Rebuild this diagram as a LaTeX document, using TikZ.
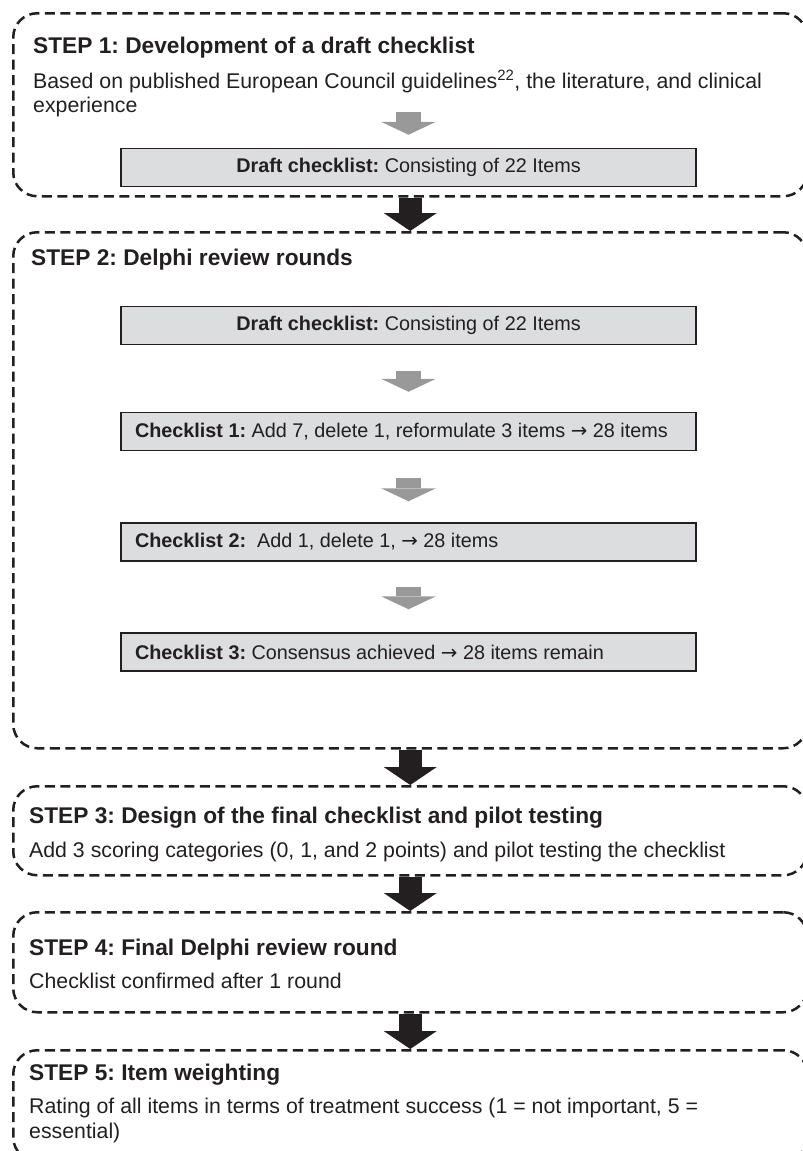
\documentclass[tikz,border=0pt]{standalone}
\usepackage{fontspec}
\setmainfont{Liberation Sans}
\newfontfamily\arrowfont{DejaVu Sans}
\usetikzlibrary{arrows.meta}
\definecolor{ink}{HTML}{231F20}
\definecolor{boxfill}{HTML}{DCDDDE}
\definecolor{arrgray}{HTML}{999999}
\newcommand{\rarr}{{\arrowfont →}}
\tikzset{
 stepbox/.style={draw=ink, line width=2.5pt, dash pattern=on 10pt off 5.5pt, rounded corners=24pt, anchor=north west, inner sep=0pt, minimum width=794pt},
 titletext/.style={font=\fontsize{22.7}{27}\selectfont\bfseries, text=ink, anchor=base west, inner sep=0pt},
 bodytext/.style={font=\fontsize{21.3}{25}\selectfont, text=ink, anchor=base west, inner sep=0pt},
 graybox/.style={draw=ink, line width=1.5pt, fill=boxfill, minimum height=38pt, minimum width=575pt, inner xsep=14pt, inner ysep=0pt, font=\fontsize{19.8}{23}\selectfont, text=ink},
 grayarrow/.style={arrgray, line width=25pt, -{Triangle[width=55pt,length=13pt,line width=0pt]}},
 blackarrow/.style={ink, line width=23pt, -{Triangle[width=53pt,length=18pt,line width=0pt]}},
}
\begin{document}
\frenchspacing
\begin{tikzpicture}[x=1pt,y=-1pt]
\useasboundingbox (0,0) rectangle (803,1151);
% step frames
\node[stepbox, minimum height=183pt] (s1) at (12,12) {};
\node[stepbox, minimum height=516pt] (s2) at (12,231) {};
\node[stepbox, minimum height=89pt] (s3) at (12,785) {};
\node[stepbox, minimum height=100pt] (s4) at (12,911) {};
\node[stepbox, minimum height=111pt] (s5) at (12,1049) {};
% step 1
\node[titletext] (t1) at (33,53) {STEP 1: Development of a draft checklist};
\node[bodytext] (b1a) at (33,88) {Based on published European Council guidelines\textsuperscript{22}, the literature, and clinical};
\node[bodytext] (b1b) at (33,112) {experience};
\node[graybox] (d1) at (408.5,167.5) {\makebox[547pt][c]{\textbf{Draft checklist:} Consisting of 22 Items}};
\coordinate (g1) at (408.5,112);
\draw[grayarrow] (g1) -- ([yshift=13pt]d1.north);
% step 2
\node[titletext] (t2) at (31,265) {STEP 2: Delphi review rounds};
\node[graybox] (d2) at (408.5,325.5) {\makebox[547pt][c]{\textbf{Draft checklist:} Consisting of 22 Items}};
\node[graybox] (c1) at (408.5,431.5) {\makebox[547pt][l]{\textbf{Checklist 1:} Add 7, delete 1, reformulate 3 items \rarr\ 28 items}};
\node[graybox] (c2) at (408.5,542) {\makebox[547pt][l]{\textbf{Checklist 2:}\ \ Add 1, delete 1, \rarr\ 28 items}};
\node[graybox] (c3) at (408.5,652) {\makebox[547pt][l]{\textbf{Checklist 3:} Consensus achieved \rarr\ 28 items remain}};
\draw[grayarrow] ([yshift=-26pt]d2.south) -- ([yshift=20pt]c1.north);
\draw[grayarrow] ([yshift=-27pt]c1.south) -- ([yshift=21pt]c2.north);
\draw[grayarrow] ([yshift=-25pt]c2.south) -- ([yshift=23pt]c3.north);
% step 3
\node[titletext] (t3) at (29,823) {STEP 3: Design of the final checklist and pilot testing};
\node[bodytext] (b3) at (29,857) {Add 3 scoring categories (0, 1, and 2 points) and pilot testing the checklist};
% step 4
\node[titletext] (t4) at (29,955) {STEP 4: Final Delphi review round};
\node[bodytext] (b4) at (29,988) {Checklist confirmed after 1 round};
% step 5
\node[titletext] (t5) at (29,1080) {STEP 5: Item weighting};
\node[bodytext] (b5a) at (29,1113) {Rating of all items in terms of treatment success (1 = not important, 5 =};
\node[bodytext] (b5b) at (29,1138) {essential)};
% connectors between steps
\draw[blackarrow] (s1.south) -- (s2.north);
\draw[blackarrow] (s2.south) -- (s3.north);
\draw[blackarrow] (s3.south) -- (s4.north);
\draw[blackarrow] (s4.south) -- (s5.north);
\end{tikzpicture}
\end{document}
